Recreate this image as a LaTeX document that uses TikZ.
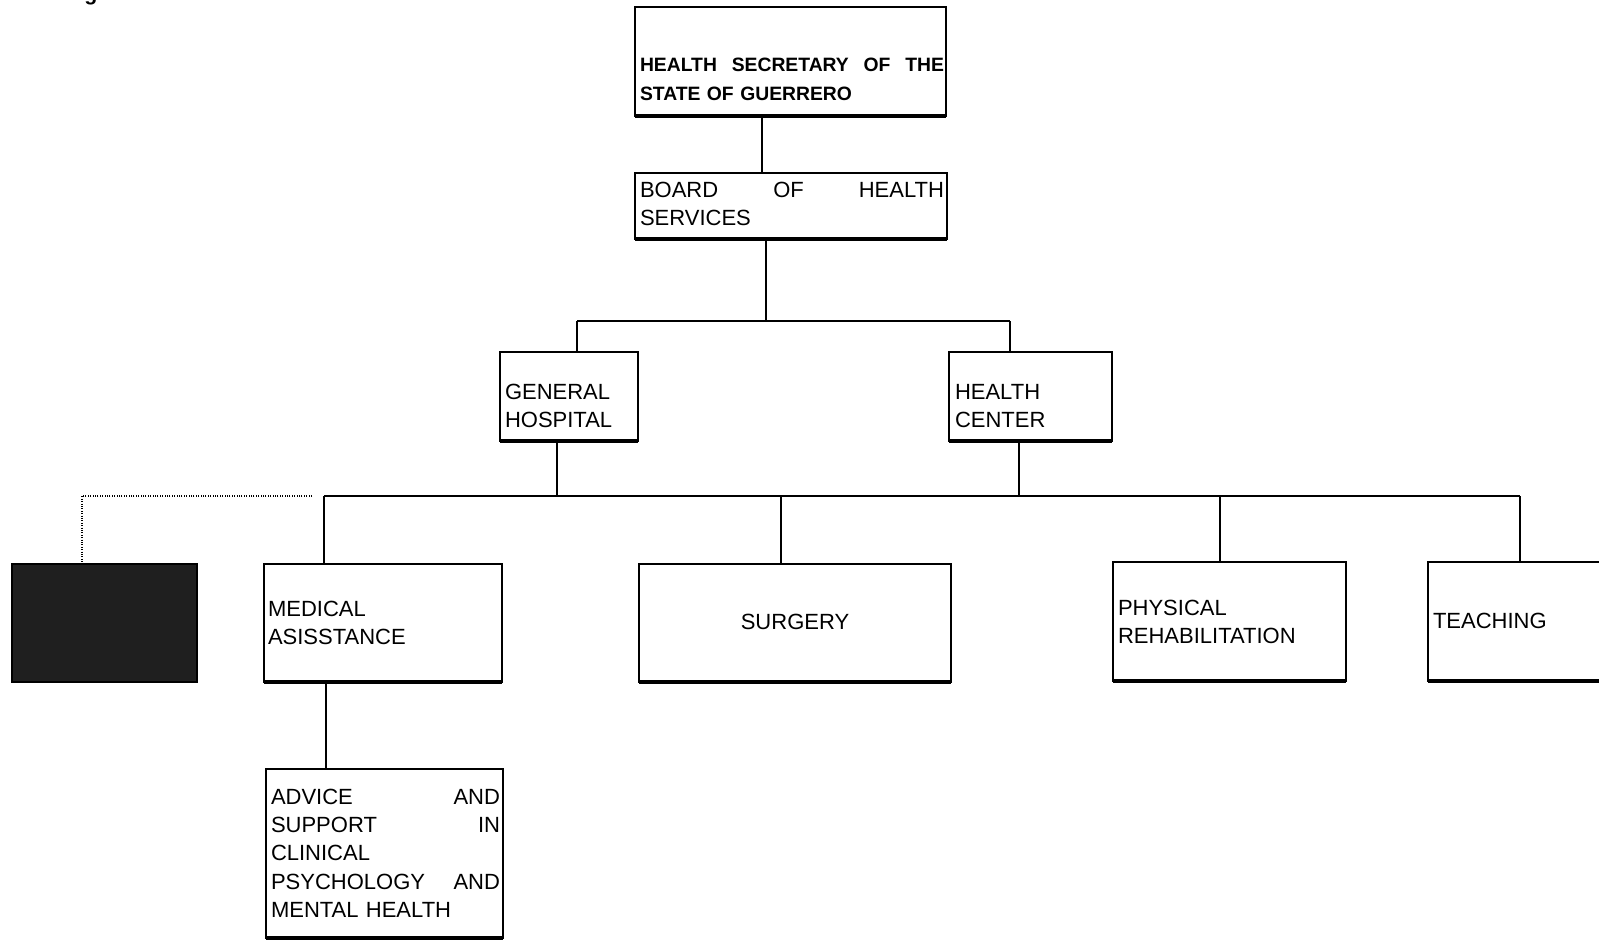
\documentclass[tikz,border=0pt]{standalone}
\usepackage{fontspec}
\setmainfont{Liberation Sans}
\begin{document}
\begin{tikzpicture}[x=0.75pt,y=-0.75pt,
  box/.style={draw, line width=0.9pt, inner sep=0pt, outer sep=0pt},
  baseline thick/.style={line width=2.4pt},
  link/.style={line width=0.9pt},
  txt/.style={inner sep=0pt, outer sep=0pt, font=\fontsize{16.5}{21.2}\selectfont, align=left},
  btxt/.style={inner sep=0pt, outer sep=0pt, font=\bfseries\fontsize{14.5}{21.75}\selectfont, align=left}]
\clip (0,0) rectangle (1599,941);
\useasboundingbox (0,0) rectangle (1599,941);

% partial glyph at top left
\node[anchor=base, inner sep=0pt, font=\bfseries\fontsize{16}{16}\selectfont] (gfrag) at (91,1) {g};

% boxes
\node[box, minimum width=233.25pt, minimum height=81.75pt] (top) at (790.5,61.5) {};
\node[box, minimum width=234pt, minimum height=49.5pt] (board) at (791,206) {};
\node[box, minimum width=103.5pt, minimum height=66.75pt] (gh) at (569,396.5) {};
\node[box, minimum width=122.25pt, minimum height=66.75pt] (hc) at (1030.5,396.5) {};
\node[box, fill=black!88, minimum width=138.75pt, minimum height=88.5pt] (dark) at (104.5,623) {};
\node[box, minimum width=178.5pt, minimum height=88.5pt] (med) at (383,623) {};
\node[box, minimum width=234pt, minimum height=88.5pt] (surg) at (795,623) {};
\node[box, minimum width=174.75pt, minimum height=89.25pt] (phys) at (1229.5,621.5) {};
\node[box, minimum width=159pt, minimum height=89.25pt] (teach) at (1534,621.5) {};
\node[box, minimum width=177.75pt, minimum height=126.75pt] (advice) at (384.5,853.5) {};

% thick bottom edges
\foreach \n in {top,board,gh,hc,med,surg,phys,teach,advice}
  \draw[baseline thick] (\n.south west) -- (\n.south east);

% texts
\node[btxt, text width=228pt, anchor=north west] (toptxt) at (640,58) {HEALTH\hfill SECRETARY\hfill OF\hfill THE\\STATE OF GUERRERO};
\node[txt, text width=228pt, anchor=north west] (boardtxt) at (640,182) {BOARD\hfill OF\hfill HEALTH\\SERVICES};
\node[txt, anchor=north west] (ghtxt) at (505,384) {GENERAL\\HOSPITAL};
\node[txt, anchor=north west] (hctxt) at (955,384) {HEALTH\\CENTER};
\node[txt, anchor=north west] (medtxt) at (268,601) {MEDICAL\\ASISSTANCE};
\node[txt, anchor=center] (surgtxt) at (795,622) {SURGERY};
\node[txt, anchor=north west] (phystxt) at (1118,600) {PHYSICAL\\REHABILITATION};
\node[txt, anchor=west] (teachtxt) at (1433,621) {TEACHING};
\node[txt, text width=171.75pt, anchor=north west] (advtxt) at (271,789) {ADVICE\hfill AND\\SUPPORT\hfill IN\\CLINICAL\\PSYCHOLOGY\hfill AND\\MENTAL HEALTH};

% connectors
\coordinate (jtop) at (762,140);
\draw[link] (top.south -| jtop) -- (board.north -| jtop);

\coordinate (jb) at (766,321);
\coordinate (jgh1) at (577,321);
\coordinate (jhc1) at (1010,321);
\draw[link] (board.south -| jb) -- (jb);
\draw[link] (jgh1) -- (jhc1);
\draw[link] (jgh1) -- (gh.north -| jgh1);
\draw[link] (jhc1) -- (hc.north -| jhc1);

\coordinate (jgh2) at (557,496);
\coordinate (jhc2) at (1019,496);
\coordinate (jmed) at (324,496);
\coordinate (jsurg) at (781,496);
\coordinate (jphys) at (1220,496);
\coordinate (jteach) at (1520,496);
\draw[link] (gh.south -| jgh2) -- (jgh2);
\draw[link] (hc.south -| jhc2) -- (jhc2);
\draw[link] (jmed) -- (jteach);
\draw[link] (jmed) -- (med.north -| jmed);
\draw[link] (jsurg) -- (surg.north -| jsurg);
\draw[link] (jphys) -- (phys.north -| jphys);
\draw[link] (jteach) -- (teach.north -| jteach);

\coordinate (jadv) at (326,720);
\draw[link] (med.south -| jadv) -- (advice.north -| jadv);

\coordinate (dotA) at (312,496);
\coordinate (dotB) at (82,496);
\draw[densely dotted, line width=0.8pt] (dotA) -- (dotB) -- (dark.north -| dotB);
\end{tikzpicture}
\end{document}
